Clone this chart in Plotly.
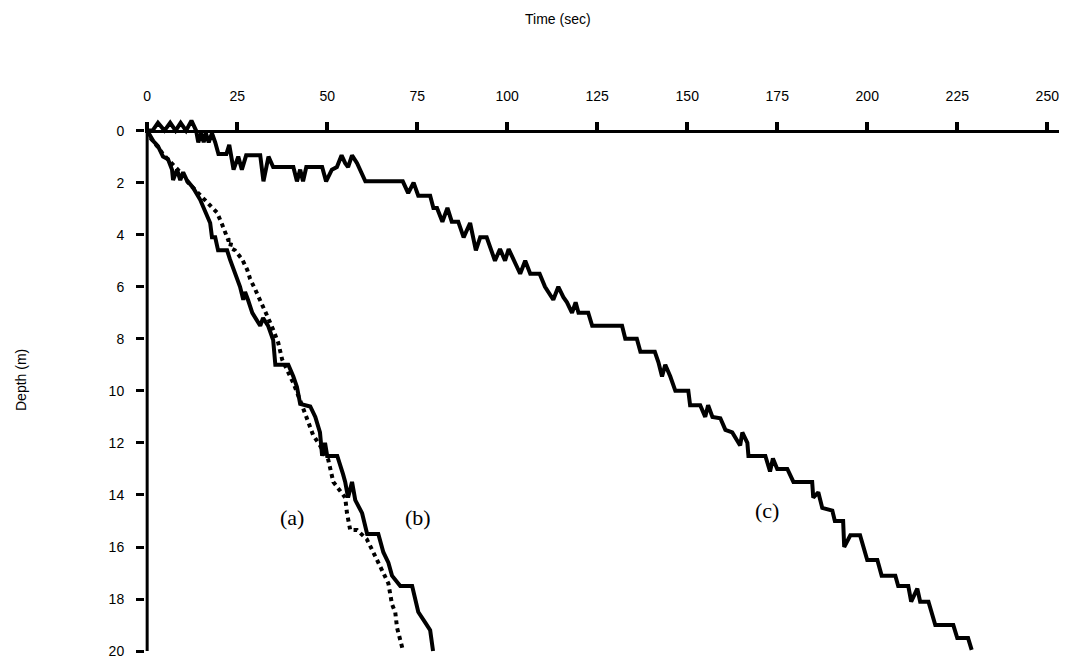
import plotly.graph_objects as go

# ---- data: time (sec) vs depth (m) ----
a_time = [0, 1, 2.8, 4.4, 6.4, 9.2, 11.4, 13.8, 17, 19.4, 20.8, 21.7, 22.5, 23.5, 23, 24.4, 26.4, 27.8,
          28.6, 30, 31.4, 32.2, 33.6, 35, 36.4, 37.5, 39, 40.6, 43, 44.7, 46.1, 48, 50.3, 51.7, 54, 55,
          55.5, 56.4, 58.3, 61, 62.8, 65.3, 67, 68, 68.9, 69.4, 70.3, 71.1]
a_depth = [0, 0.3, 0.6, 0.9, 1.2, 1.6, 2.0, 2.35, 2.85, 3.15, 3.6, 3.9, 4.2, 4.2, 4.5, 4.6, 4.95, 5.35,
           5.7, 6.1, 6.5, 6.8, 7.2, 7.65, 8.15, 8.8, 9.2, 9.7, 10.55, 11.2, 11.7, 12.1, 12.65, 13.5, 13.9, 14.1,
           14.7, 15.35, 15.35, 15.7, 16.2, 16.9, 17.4, 18.2, 18.5, 19.1, 19.6, 20]

b_time = [0, 0.8, 1.7, 3, 4.4, 5.8, 6.9, 7.2, 8.3, 9.2, 10, 11, 12.8, 14.7, 16.1, 17.5, 18, 18.9, 19.7,
          22.2, 23, 24.4, 25.8, 26.7, 27.2, 28, 29.2, 31.4, 32.2, 33.6, 35, 35.6, 39.2, 40.6, 41.6, 42.5,
          45.3, 46.7, 48, 48.6, 49.4, 50, 52.8, 54.4, 55, 55.8, 56.9, 57.8, 59.7, 61.1, 64.2, 65.6, 67, 68,
          70.3, 73.6, 75.3, 77.2, 78.6, 79.4]
b_depth = [0, 0.2, 0.4, 0.6, 1.0, 1.1, 1.5, 1.9, 1.5, 1.9, 1.6, 1.9, 2.2, 2.65, 3.15, 3.55, 4.1, 4.1, 4.6,
           4.6, 4.95, 5.5, 6.0, 6.5, 6.2, 6.5, 7.0, 7.5, 7.2, 7.5, 8.05, 9.0, 9.0, 9.45, 9.85, 10.5,
           10.6, 11.0, 11.6, 12.5, 12.0, 12.5, 12.5, 13.2, 13.5, 14.1, 13.5, 14.2, 14.7, 15.5, 15.5, 16.2, 16.6, 17.1,
           17.5, 17.5, 18.5, 18.9, 19.2, 20]

c_time = [0, 1.5, 3, 4.8, 6.4, 7.9, 9.3, 10.8, 12.3, 13.6, 14.2, 15, 15.7, 16.3, 17.1, 18, 18.9, 19.8,
          22, 22.8, 24, 25.3, 26.3, 27.5, 31.4, 32.3, 33.7, 35, 40.6, 41.6, 42.5, 43.3, 44.2, 48.6, 49.7,
          51.3, 52.7, 54, 55, 55.8, 56.9, 58.3, 60.6, 71, 72.5, 74, 75.3, 78.6, 79.5, 80.5, 82, 83.4, 84.6,
          86.4, 87.9, 89.7, 91.3, 92.5, 94.3, 96.6, 98, 99.4, 100.4, 101.8, 103.6, 105, 106.4, 109, 110.5,
          112.8, 114.2, 115.6, 116.6, 118, 119, 119.8, 122.5, 123.6, 131.9, 132.8, 136, 137, 141, 142, 143,
          143.9, 145.3, 146.7, 150.3, 150.8, 153.6, 155, 155.8, 157, 159.2, 160.6, 162.5, 164.7, 165.3,
          166.7, 167, 171.7, 173, 173.8, 175, 177.8, 179.5, 184.7, 185, 186.4, 187.5, 190.3, 191, 193.3,
          193.6, 195.3, 198, 200, 202.8, 204, 207.8, 208.6, 211.4, 212.2, 213.9, 214.7, 217, 218.9, 223.9,
          225, 228, 229]
c_depth = [0, 0, -0.3, 0, -0.3, 0, -0.3, 0, -0.38, 0, 0.45, 0.1, 0.45, 0.1, 0.45, 0.1, 0.45, 0.9,
           0.9, 0.55, 1.5, 1.0, 1.5, 0.95, 0.95, 1.95, 1.0, 1.4, 1.4, 1.95, 1.5, 1.95, 1.4, 1.4, 1.95,
           1.5, 1.4, 0.95, 1.25, 1.4, 0.95, 1.25, 1.95, 1.95, 2.4, 2.0, 2.5, 2.5, 2.97, 2.97, 3.5, 2.97, 3.5,
           3.5, 4.1, 3.55, 4.6, 4.1, 4.1, 5.0, 4.55, 5.0, 4.55, 4.95, 5.5, 5.0, 5.5, 5.5, 6.0,
           6.5, 6.0, 6.4, 6.6, 7.0, 6.6, 7.0, 7.0, 7.5, 7.5, 8.0, 8.0, 8.5, 8.5, 8.9, 9.45,
           9.0, 9.45, 10.0, 10.0, 10.55, 10.55, 11.0, 10.55, 11.0, 11.05, 11.5, 11.6, 12.1, 11.6,
           12.0, 12.5, 12.5, 13.1, 12.6, 13.0, 13.0, 13.5, 13.5, 14.1, 13.9, 14.5, 14.6, 15.0, 15.0,
           16.0, 15.55, 15.55, 16.5, 16.5, 17.1, 17.1, 17.5, 17.5, 18.1, 17.6, 18.1, 18.1, 19.0, 19.0,
           19.5, 19.5, 19.95]

x_ticks = [0, 25, 50, 75, 100, 125, 150, 175, 200, 225, 250]
y_ticks = [0, 2, 4, 6, 8, 10, 12, 14, 16, 18, 20]
curve_labels = ["(a)", "(b)", "(c)"]
label_time = [40.3, 75.3, 172.2]
label_depth = [14.85, 14.85, 14.6]

X_RANGE = [-0.6, 255.2]
Y_RANGE = [20.15, -0.6]

fig = go.Figure()
fig.add_trace(go.Scatter(x=a_time, y=a_depth, mode="lines",
                         line=dict(color="black", width=4, dash="dot"), showlegend=False))
fig.add_trace(go.Scatter(x=b_time, y=b_depth, mode="lines",
                         line=dict(color="black", width=4), showlegend=False))
fig.add_trace(go.Scatter(x=c_time, y=c_depth, mode="lines",
                         line=dict(color="black", width=4), showlegend=False))

for txt, tx, ty in zip(curve_labels, label_time, label_depth):
    fig.add_annotation(x=tx, y=ty, xref="x", yref="y", text=txt, showarrow=False,
                       xanchor="center", yanchor="middle",
                       font=dict(family="Liberation Serif, Times New Roman, serif", size=22, color="black"))

# page body has an 8px margin: the figure's top-left corner sits at (8, 8)
OFF = 8
W, H = 1067 - OFF, 659 - OFF
ML, MR, MT, MB = 145 - OFF, 1, 115 - OFF, 4
pw, ph = W - ML - MR, H - MT - MB

def px_to_paper(px, py):
    return (px - OFF - ML) / pw, 1 - (py - OFF - MT) / ph

tx, ty = px_to_paper(558, 19)
fig.add_annotation(x=tx, y=ty, xref="paper", yref="paper", text="Time (sec)", showarrow=False,
                   xanchor="center", yanchor="middle",
                   font=dict(family="Liberation Sans, Arial, sans-serif", size=14, color="black"))
dx, dy = px_to_paper(21, 380)
fig.add_annotation(x=dx, y=dy, xref="paper", yref="paper", text="Depth (m)", showarrow=False,
                   xanchor="center", yanchor="middle", textangle=-90,
                   font=dict(family="Liberation Sans, Arial, sans-serif", size=14, color="black"))

# y axis line from depth 0 to 20
fig.add_shape(type="line", xref="x", yref="y", x0=0, x1=0, y0=0, y1=20,
              line=dict(color="black", width=3))

fig.update_layout(
    width=W, height=H,
    margin=dict(l=ML, r=MR, t=MT, b=MB),
    paper_bgcolor="white", plot_bgcolor="white",
    font=dict(family="Liberation Sans, Arial, sans-serif", size=14, color="black"),
    xaxis=dict(range=X_RANGE, side="top", anchor="free",
               position=Y_RANGE[0] / (Y_RANGE[0] - Y_RANGE[1]),
               tickvals=x_ticks, ticktext=[str(v) for v in x_ticks],
               ticks="outside", ticklen=8, tickwidth=4, tickcolor="black",
               showline=True, linecolor="black", linewidth=2.5,
               showgrid=False, zeroline=False, ticklabelstandoff=15,
               ticklabeloverflow="allow"),
    yaxis=dict(range=Y_RANGE, autorange=False,
               tickvals=y_ticks, ticktext=[str(v) for v in y_ticks],
               ticks="outside", ticklen=8, tickwidth=3, tickcolor="black",
               showline=False, showgrid=False, zeroline=False, ticklabelstandoff=9,
               ticklabeloverflow="allow"),
)

fig.write_html("out.html")
